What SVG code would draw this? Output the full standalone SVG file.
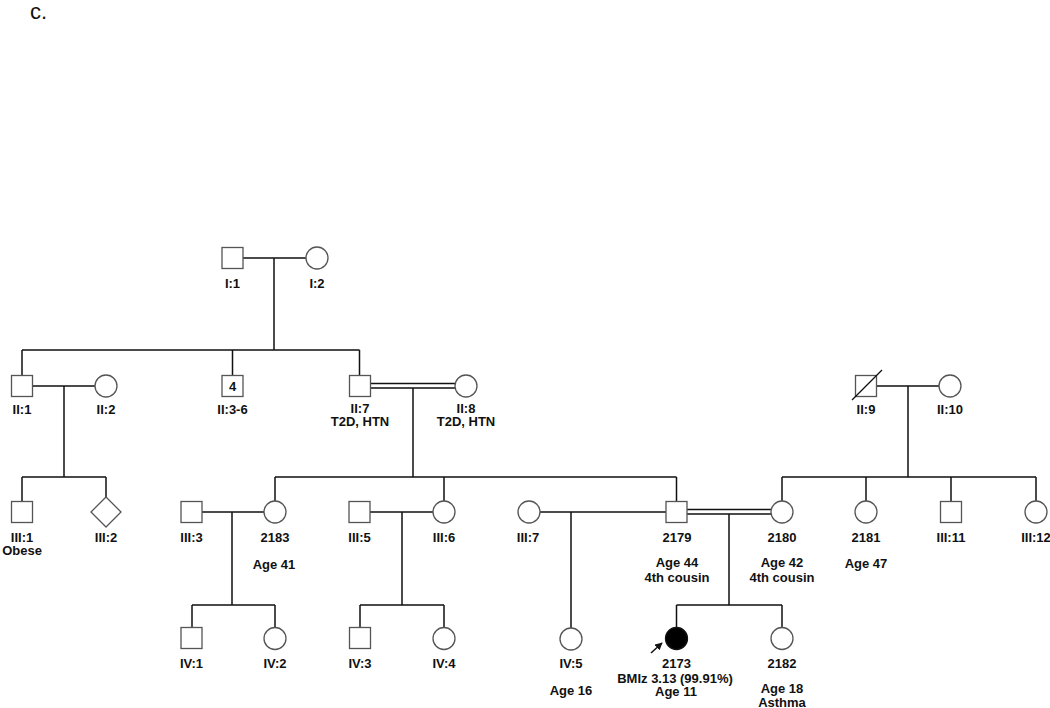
<svg xmlns="http://www.w3.org/2000/svg" width="1050" height="708" viewBox="0 0 1050 708">
<style>
.ln{stroke:#111;stroke-width:1.5;fill:none}
.sh{stroke:#555;stroke-width:1.3;fill:#fff}
.t{font-family:"Liberation Sans",Arial,sans-serif;font-weight:bold;font-size:13px;fill:#111;text-anchor:middle}
</style>
<defs>
<marker id="ah" viewBox="0 0 10 10" refX="9" refY="5" markerWidth="5" markerHeight="5" orient="auto"><path d="M0,0L10,5L0,10z" fill="#111"/></marker>
</defs>
<rect width="1050" height="708" fill="#fff"/>
<text x="30" y="19" font-family="Liberation Sans,Arial,sans-serif" font-size="22" fill="#111">c.</text>
<g id="connectors">
<path class="ln" d="M243,258H306M274,258V350M22,350H359.5M22,350V375M232.5,350V375M359.5,350V375"/>
<path class="ln" d="M33,386H95M64,386V477M22,477H106M22,477V501M106,477V497"/>
<path class="ln" d="M371,383.5H455M371,388H455M413,388V477M275,477H676.5M275,477V501M444,477V501M676.5,477V501"/>
<path class="ln" d="M877,386H939M908,386V477M782,477H1036M782,477V501M866,477V501M951,477V501M1036,477V501"/>
<path class="ln" d="M202,512H264M232,512V605M192,605H275M192,605V627M275,605V627"/>
<path class="ln" d="M370,512H433M402,512V605M360,605H444M360,605V627M444,605V627"/>
<path class="ln" d="M540,512H666M571,512V628"/>
<path class="ln" d="M687,509.5H771M687,514H771M729,514V605M676.5,605H782M676.5,605V627M782,605V627"/>
<line class="ln" x1="651" y1="653" x2="662" y2="643" marker-end="url(#ah)" stroke-width="1.3"/>
</g>
<g id="I1"><rect class="sh" x="222" y="247.5" width="21" height="21"/><text class="t" x="232.5" y="288">I:1</text></g>
<g id="I2"><circle class="sh" cx="317" cy="258" r="11"/><text class="t" x="317" y="288">I:2</text></g>
<g id="II1"><rect class="sh" x="11.5" y="375.5" width="21" height="21"/><text class="t" x="22" y="414">II:1</text></g>
<g id="II2"><circle class="sh" cx="106" cy="386" r="11"/><text class="t" x="106" y="414">II:2</text></g>
<g id="II3-6"><rect class="sh" x="222" y="375.5" width="21" height="21"/><text class="t" x="232.5" y="391">4</text><text class="t" x="232.5" y="414">II:3-6</text></g>
<g id="II7"><rect class="sh" x="349.5" y="375.5" width="21" height="21"/><text class="t" x="360" y="413">II:7</text><text class="t" x="360" y="426">T2D, HTN</text></g>
<g id="II8"><circle class="sh" cx="466" cy="386" r="11"/><text class="t" x="466" y="413">II:8</text><text class="t" x="466" y="426">T2D, HTN</text></g>
<g id="II9"><rect class="sh" x="855.5" y="375.5" width="21" height="21"/><line x1="852" y1="400" x2="882" y2="370" stroke="#111" stroke-width="1.3"/><text class="t" x="866" y="414">II:9</text></g>
<g id="II10"><circle class="sh" cx="950" cy="386" r="11"/><text class="t" x="950" y="414">II:10</text></g>
<g id="III1"><rect class="sh" x="11.5" y="501.5" width="21" height="21"/><text class="t" x="22" y="541.5">III:1</text><text class="t" x="22" y="554.5">Obese</text></g>
<g id="III2"><path class="sh" d="M106,497L121,512L106,527L91,512Z"/><text class="t" x="106" y="541.5">III:2</text></g>
<g id="III3"><rect class="sh" x="181" y="501.5" width="21" height="21"/><text class="t" x="191.5" y="541.5">III:3</text></g>
<g id="n2183"><circle class="sh" cx="275" cy="512" r="11"/><text class="t" x="275" y="541.5">2183</text><text class="t" x="274" y="568.5">Age 41</text></g>
<g id="III5"><rect class="sh" x="349" y="501.5" width="21" height="21"/><text class="t" x="359.5" y="541.5">III:5</text></g>
<g id="III6"><circle class="sh" cx="444" cy="512" r="11"/><text class="t" x="444" y="541.5">III:6</text></g>
<g id="III7"><circle class="sh" cx="529" cy="512" r="11"/><text class="t" x="528" y="541.5">III:7</text></g>
<g id="n2179"><rect class="sh" x="666" y="501.5" width="21" height="21"/><text class="t" x="677" y="541.5">2179</text><text class="t" x="677" y="566.5">Age 44</text><text class="t" x="677" y="581.5">4th cousin</text></g>
<g id="n2180"><circle class="sh" cx="782" cy="512" r="11"/><text class="t" x="782" y="541.5">2180</text><text class="t" x="782" y="566.5">Age 42</text><text class="t" x="782" y="581.5">4th cousin</text></g>
<g id="n2181"><circle class="sh" cx="866" cy="512" r="11"/><text class="t" x="866" y="541.5">2181</text><text class="t" x="866" y="567.5">Age 47</text></g>
<g id="III11"><rect class="sh" x="940.5" y="501.5" width="21" height="21"/><text class="t" x="951" y="541.5">III:11</text></g>
<g id="III12"><circle class="sh" cx="1036" cy="512" r="11"/><text class="t" x="1036" y="541.5">III:12</text></g>
<g id="IV1"><rect class="sh" x="181" y="627.5" width="21" height="21"/><text class="t" x="191.5" y="667.5">IV:1</text></g>
<g id="IV2"><circle class="sh" cx="275" cy="638.5" r="11"/><text class="t" x="275" y="667.5">IV:2</text></g>
<g id="IV3"><rect class="sh" x="349.5" y="627.5" width="21" height="21"/><text class="t" x="360" y="667.5">IV:3</text></g>
<g id="IV4"><circle class="sh" cx="444" cy="638.5" r="11"/><text class="t" x="444" y="667.5">IV:4</text></g>
<g id="IV5"><circle class="sh" cx="571" cy="639" r="11"/><text class="t" x="571" y="667.5">IV:5</text><text class="t" x="571" y="694.5">Age 16</text></g>
<g id="n2173"><circle cx="676.5" cy="638.5" r="11" fill="#000" stroke="#111" stroke-width="1.3"/><text class="t" x="676.5" y="667.5">2173</text><text class="t" x="675" y="682.5">BMIz 3.13 (99.91%)</text><text class="t" x="676" y="695.5">Age 11</text></g>
<g id="n2182"><circle class="sh" cx="782" cy="638.5" r="11"/><text class="t" x="782" y="667.5">2182</text><text class="t" x="782" y="693" font-size="12.5">Age 18</text><text class="t" x="782" y="707" font-size="12.5">Asthma</text></g>
</svg>
